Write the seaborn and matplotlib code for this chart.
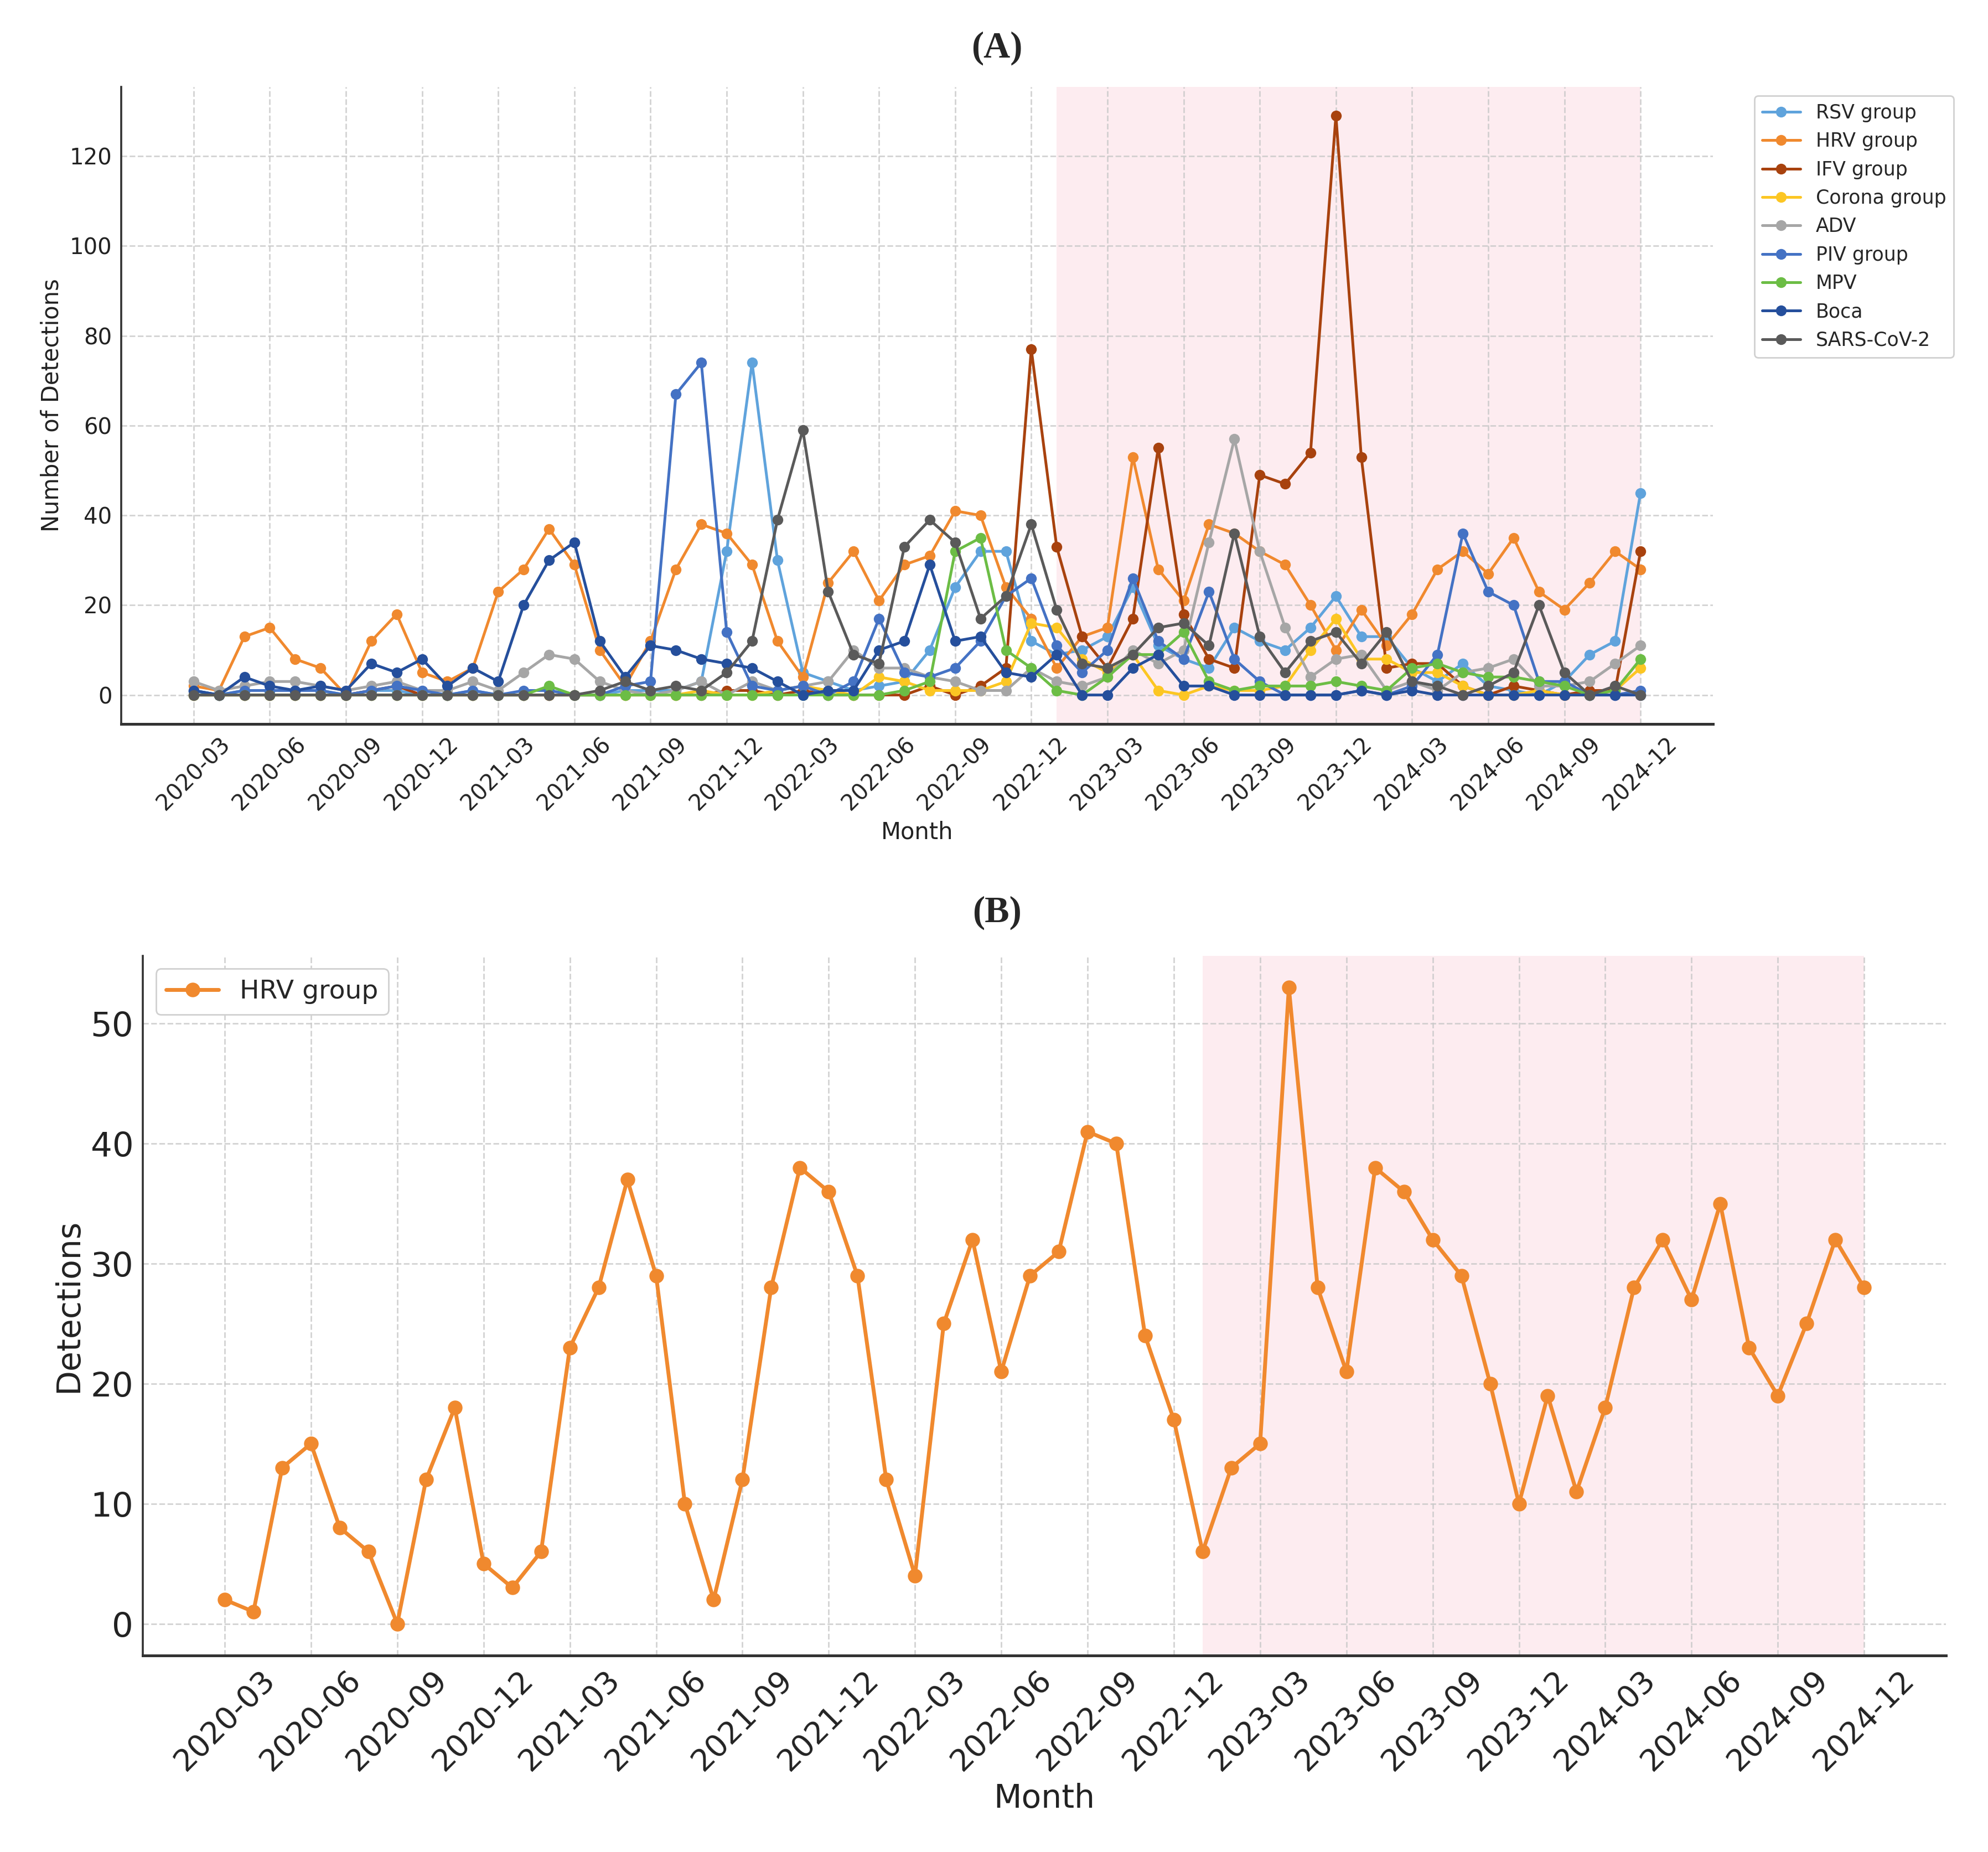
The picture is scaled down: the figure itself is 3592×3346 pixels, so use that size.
import numpy as np
import pandas as pd
import matplotlib
matplotlib.use("Agg")
import matplotlib.pyplot as plt
import seaborn as sns

# months 2020-03 .. 2024-12
months = pd.date_range("2020-03-01", "2024-12-01", freq="MS").strftime("%Y-%m").tolist()

rsv = [1, 0, 1, 1, 1, 1, 0, 1, 1, 0, 0, 1, 0, 0, 0, 0, 0, 1, 1, 1, 3, 32, 74, 30, 5, 3, 1, 2, 3,
       10, 24, 32, 32, 12, 9, 10, 13, 24, 11, 8, 6, 15, 12, 10, 15, 22, 13, 13, 6, 3, 7, 2, 1, 0,
       3, 9, 12, 45]
hrv = [2, 1, 13, 15, 8, 6, 0, 12, 18, 5, 3, 6, 23, 28, 37, 29, 10, 2, 12, 28, 38, 36, 29, 12,
       4, 25, 32, 21, 29, 31, 41, 40, 24, 17, 6, 13, 15, 53, 28, 21, 38, 36, 32, 29, 20, 10, 19,
       11, 18, 28, 32, 27, 35, 23, 19, 25, 32, 28]
ifv = [0, 0, 0, 0, 0, 0, 0, 1, 2, 0, 0, 0, 0, 0, 0, 0, 0, 0, 0, 0, 0, 1, 1, 0, 1, 0, 0, 0, 0,
       2, 0, 2, 6, 77, 33, 13, 6, 17, 55, 18, 8, 6, 49, 47, 54, 129, 53, 6, 7, 7, 2, 0, 2, 1,
       0, 1, 1, 32]
corona = [0, 0, 0, 0, 0, 0, 0, 0, 0, 0, 0, 0, 0, 0, 0, 0, 0, 0, 0, 0, 1, 0, 0, 1, 2, 1, 0, 4,
          3, 1, 1, 1, 3, 16, 15, 8, 5, 9, 1, 0, 2, 1, 1, 2, 10, 17, 8, 8, 5, 5, 2, 0, 0, 1, 0,
          0, 1, 6]
adv = [3, 1, 2, 3, 3, 2, 1, 2, 3, 1, 1, 3, 1, 5, 9, 8, 3, 1, 0, 1, 3, 0, 3, 1, 2, 3, 10, 6,
       6, 4, 3, 1, 1, 6, 3, 2, 4, 10, 7, 10, 34, 57, 32, 15, 4, 8, 9, 1, 3, 1, 5, 6, 8, 2, 2,
       3, 7, 11]
piv = [1, 0, 1, 1, 1, 1, 0, 1, 2, 1, 0, 1, 0, 1, 1, 0, 0, 2, 3, 67, 74, 14, 2, 1, 2, 0, 3, 17,
       5, 4, 6, 12, 22, 26, 11, 5, 10, 26, 12, 8, 23, 8, 3, 0, 0, 0, 1, 0, 2, 9, 36, 23, 20, 3,
       3, 0, 0, 1]
mpv = [0, 0, 0, 0, 0, 0, 0, 0, 0, 0, 0, 0, 0, 0, 2, 0, 0, 0, 0, 0, 0, 0, 0, 0, 0, 0, 0, 0, 1,
       3, 32, 35, 10, 6, 1, 0, 4, 9, 9, 14, 3, 1, 2, 2, 2, 3, 2, 1, 6, 7, 5, 4, 4, 3, 2, 0, 1, 8]
boca = [1, 0, 4, 2, 1, 2, 1, 7, 5, 8, 2, 6, 3, 20, 30, 34, 12, 4, 11, 10, 8, 7, 6, 3, 0, 1, 1,
        10, 12, 29, 12, 13, 5, 4, 9, 0, 0, 6, 9, 2, 2, 0, 0, 0, 0, 0, 1, 0, 1, 0, 0, 0, 0, 0,
        0, 0, 0, 0]
sars = [0, 0, 0, 0, 0, 0, 0, 0, 0, 0, 0, 0, 0, 0, 0, 0, 1, 3, 1, 2, 1, 5, 12, 39, 59, 23, 9, 7,
        33, 39, 34, 17, 22, 38, 19, 7, 6, 9, 15, 16, 11, 36, 13, 5, 12, 14, 7, 14, 3, 2, 0, 2,
        5, 20, 5, 0, 2, 0]

series = {
    "RSV group": (rsv, "#5fa3dc"),
    "HRV group": (hrv, "#f0892e"),
    "IFV group": (ifv, "#a8420e"),
    "Corona group": (corona, "#fcc623"),
    "ADV": (adv, "#a6a6a6"),
    "PIV group": (piv, "#4472c4"),
    "MPV": (mpv, "#6cbd45"),
    "Boca": (boca, "#254f9c"),
    "SARS-CoV-2": (sars, "#5a5a5a"),
}

shade_start = "2023-01"
shade_end = "2024-12"

sns.set_style("whitegrid", {"grid.linestyle": "--", "grid.color": "#cfcfcf",
                            "axes.edgecolor": "#333333"})
plt.rcParams["font.family"] = ["DejaVu Sans"]

fig = plt.figure(figsize=(17.96, 16.73), dpi=200)
ax_a = fig.add_axes([0.0610, 0.6091, 0.8006, 0.3440])
ax_b = fig.add_axes([0.0718, 0.1061, 0.9071, 0.3778])

x = np.arange(len(months))
tick_pos = x[::3]
tick_lab = months[::3]
s0 = months.index(shade_start)
s1 = months.index(shade_end)


def style_axis(ax, tick_size, ytick_size, label_size, ylabel):
    ax.axvspan(s0, s1, color="#fdecf0", zorder=0, lw=0)
    ax.set_xticks(tick_pos)
    ax.set_xticklabels(tick_lab, rotation=45)
    ax.tick_params(axis="both", direction="in", length=5,
                   width=1.2, colors="#222222", pad=6)
    ax.tick_params(axis="x", labelsize=tick_size)
    ax.tick_params(axis="y", labelsize=ytick_size)
    ax.set_xlabel("Month", fontsize=label_size, color="#222222")
    ax.set_ylabel(ylabel, fontsize=label_size, color="#222222")
    ax.grid(True, linestyle="--", linewidth=1.0, color="#c8c8c8", alpha=0.8)
    ax.set_axisbelow(True)
    for side in ["top", "right"]:
        ax.spines[side].set_visible(False)
    ax.spines["left"].set_linewidth(1.3)
    ax.spines["bottom"].set_linewidth(1.8)


# panel A: all groups
for name, (vals, col) in series.items():
    sns.lineplot(x=x, y=vals, ax=ax_a, color=col, marker="o", markersize=7,
                 markeredgewidth=0, linewidth=1.8, label=name)
style_axis(ax_a, 14.5, 14.5, 15, "Number of Detections")
ax_a.set_ylim(-6.45, 135.45)
ax_a.set_xlim(-2.85, 59.85)
ax_a.legend(loc="upper left", bbox_to_anchor=(1.026, 0.986), borderaxespad=0,
            fontsize=12.5, frameon=True, edgecolor="#d0d0d0", framealpha=1)

# panel B: HRV only
sns.lineplot(x=x, y=hrv, ax=ax_b, color="#f0892e", marker="o", markersize=9.5,
             markeredgewidth=0, linewidth=2.5, label="HRV group")
style_axis(ax_b, 20, 22, 21, "Detections")
ax_b.set_ylim(-2.65, 55.65)
ax_b.set_xlim(-2.85, 59.85)
ax_b.legend(loc="upper left", fontsize=17, frameon=True, edgecolor="#d0d0d0",
            framealpha=1)

fig.text(0.5016, 0.974, "(A)", ha="center", va="center", fontsize=24,
         fontweight="bold", family=["Liberation Serif", "DejaVu Serif"])
fig.text(0.5016, 0.507, "(B)", ha="center", va="center", fontsize=24,
         fontweight="bold", family=["Liberation Serif", "DejaVu Serif"])

fig.savefig("out.png", dpi=200, facecolor="white")
